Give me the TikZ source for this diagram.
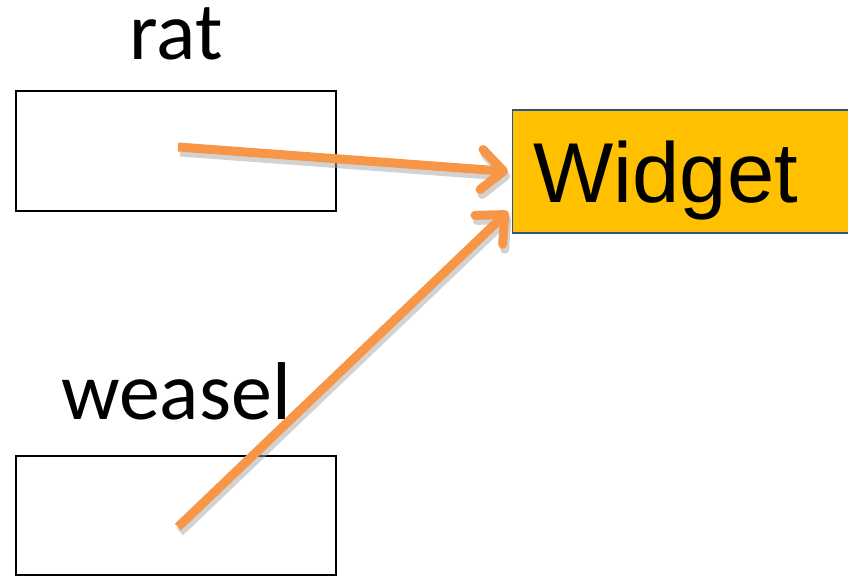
\documentclass[tikz,border=0pt]{standalone}
\usepackage{fontspec}
\setmainfont{Carlito}
\newfontfamily\arialfont{Liberation Sans}
\usetikzlibrary{arrows.meta}
\definecolor{ptrorange}{HTML}{F79646}
\definecolor{widgetfill}{HTML}{FFC000}
\definecolor{widgetedge}{HTML}{2F528F}
\begin{document}
\begin{tikzpicture}[x=1pt,y=1pt,
  varbox/.style={draw=black, line width=2pt, minimum width=320pt, minimum height=120pt, inner sep=0pt},
  varlabel/.style={font=\fontsize{82}{90}\selectfont, anchor=base, inner sep=0pt},
  objbox/.style={draw=widgetedge, line width=1.2pt, fill=widgetfill, anchor=west,
    text width=294pt, inner xsep=21pt, inner ysep=0pt, align=left,
    minimum height=123pt, text height=62pt, text depth=0pt,
    font=\arialfont\fontsize{85}{95}\selectfont},
  ptr/.style={draw=ptrorange, line width=9pt, -{Straight Barb[length=22pt,width=40pt,round]}},
  ptrshadow/.style={draw=black!35, opacity=0.5, line width=9pt, -{Straight Barb[length=22pt,width=40pt,round]},
    transform canvas={shift={(2pt,-5pt)}}}
]
\useasboundingbox (0,0) rectangle (848,577);
\node[varbox] (rat) at (176,426) {};
\node[varbox, minimum height=119pt] (weasel) at (176,61.5) {};
\node[varlabel] (ratlabel) at (176,517) {rat};
\node[varlabel] (weasellabel) at (176,157) {weasel};
\node[objbox] (widget) at (512,405.5) {Widget};
\coordinate (ratptr) at (178,430);
\coordinate (weaselptr) at (178,50);
\draw[ptrshadow] (ratptr) -- ([xshift=-4pt]widget.west);
\draw[ptrshadow] (weaselptr) -- ([xshift=-4pt,yshift=-40pt]widget.west);
\draw[ptr] (ratptr) -- ([xshift=-4pt]widget.west);
\draw[ptr] (weaselptr) -- ([xshift=-4pt,yshift=-40pt]widget.west);
\end{tikzpicture}
\end{document}
